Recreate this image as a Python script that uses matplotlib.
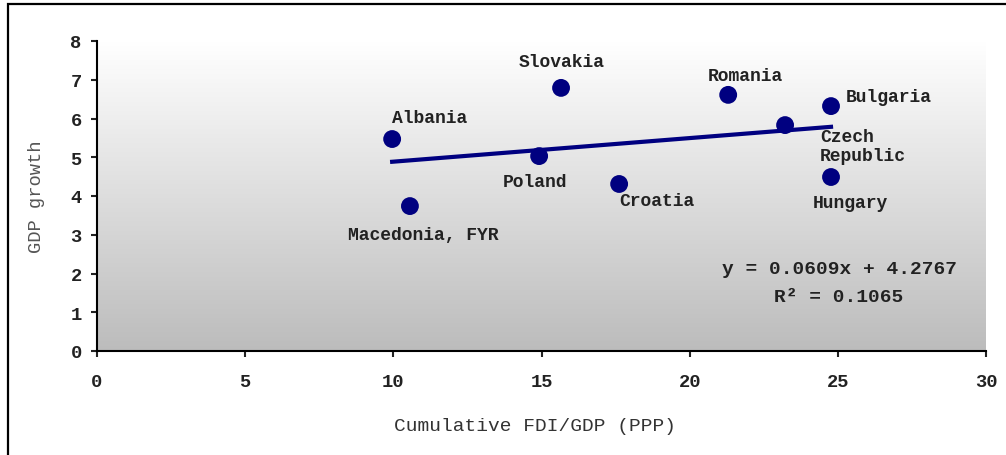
import matplotlib.pyplot as plt
import numpy as np
from matplotlib.colors import LinearSegmentedColormap
from matplotlib.patches import Rectangle

countries = ["Albania", "Macedonia, FYR", "Poland", "Slovakia", "Croatia",
             "Romania", "Czech\nRepublic", "Bulgaria", "Hungary"]
fdi = [9.96, 10.56, 14.92, 15.66, 17.62, 21.3, 23.22, 24.77, 24.77]
growth = [5.47, 3.74, 5.03, 6.79, 4.31, 6.61, 5.83, 6.32, 4.49]
slope = 0.0609
intercept = 4.2767
r2 = 0.1065

# label offsets in pixels (dx, dy) and horizontal alignment
offsets = [(37, 22, 'center'), (13, -28, 'center'), (-4, -25, 'center'),
           (1, 26, 'center'), (38, -17, 'center'), (17, 19, 'center'),
           (35, -21, 'left'), (58, 10, 'center'), (19, -25, 'center')]

plt.rcParams['font.family'] = ['Liberation Mono', 'DejaVu Sans']
plt.rcParams['font.weight'] = 'bold'

fig = plt.figure(figsize=(10.06, 4.56), dpi=100)
ax = fig.add_axes([97 / 1006, 1 - 352 / 456, 889 / 1006, 310 / 456])

cmap = LinearSegmentedColormap.from_list('bg', ['#ffffff', '#bcbcbc'])
grad = np.linspace(1, 0, 256).reshape(-1, 1)
ax.imshow(grad, cmap=cmap, aspect='auto', extent=[0, 30, 0, 8],
          origin='lower', zorder=0)

xs = np.array([min(fdi), max(fdi)])
ax.plot(xs, slope * xs + intercept, color='#000080', lw=3, zorder=2)
ax.scatter(fdi, growth, s=165, color='#000080', zorder=3, edgecolors='none')

for name, x, y, (dx, dy, ha) in zip(countries, fdi, growth, offsets):
    ax.annotate(name, (x, y), xytext=(dx * 0.72, dy * 0.72),
                textcoords='offset points', ha=ha, va='center',
                fontsize=13, color='#222222', linespacing=1.15)

ax.text(0.835, 0.265, "y = %.4fx + %.4f" % (slope, intercept),
        transform=ax.transAxes, ha='center', va='center', fontsize=14,
        color='#222222')
ax.text(0.834, 0.175, "R\u00b2 = %.4f" % r2,
        transform=ax.transAxes, ha='center', va='center',
        fontsize=14, color='#222222')

ax.set_xlim(0, 30)
ax.set_ylim(0, 8)
ax.set_xticks(range(0, 31, 5))
ax.set_yticks(range(0, 9))
ax.spines['top'].set_visible(False)
ax.spines['right'].set_visible(False)
ax.spines['left'].set_linewidth(1.5)
ax.spines['bottom'].set_linewidth(1.5)
ax.tick_params(axis='x', length=4, width=1.5, pad=12, labelsize=13.5,
               colors='#222222')
ax.tick_params(axis='y', length=4, width=1.5, pad=7, labelsize=13.5,
               colors='#222222')

ax.set_xlabel("Cumulative FDI/GDP (PPP)", fontsize=14, color='#333333')
ax.xaxis.set_label_coords(0.493, -0.213)
ax.set_ylabel("GDP growth", fontsize=13.5, color='#555555',
              fontweight='normal')
ax.yaxis.set_label_coords(-0.0585, 0.5)

fig.patches.append(Rectangle((8 / 1006, -0.1), 1.2, 1 - 5 / 456 + 0.1,
                             transform=fig.transFigure, fill=False,
                             edgecolor='black', lw=1.6))

fig.savefig("out.png", dpi=100)
